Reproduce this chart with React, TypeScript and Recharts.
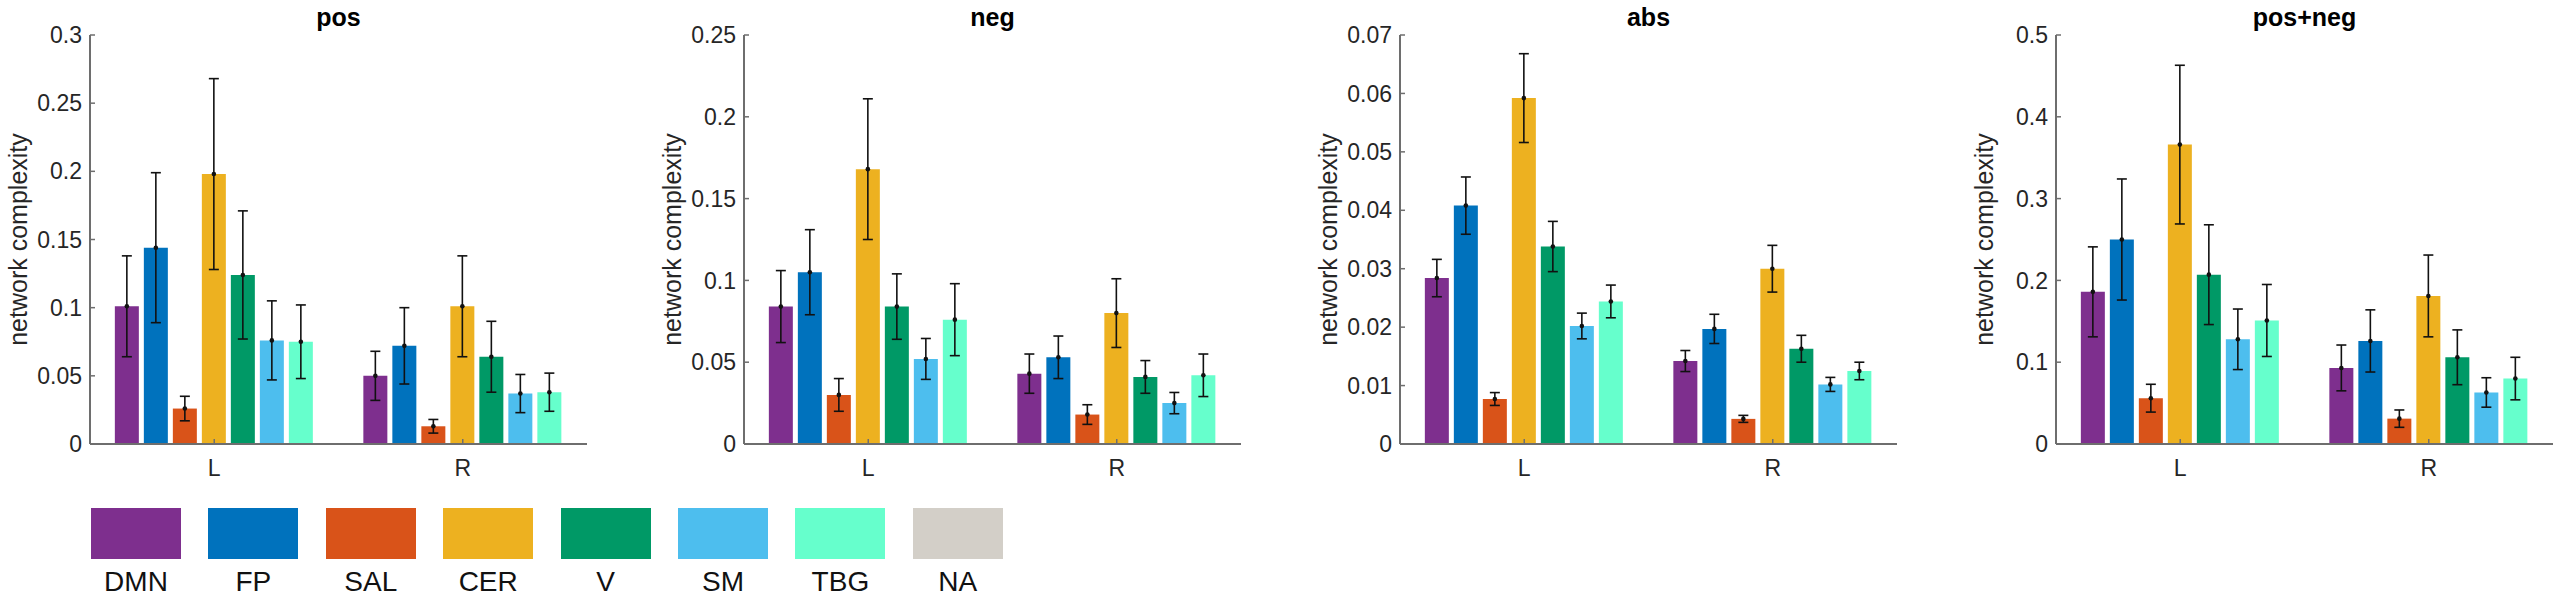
import React from "react";
import { BarChart, Bar, XAxis, YAxis, ErrorBar, LabelList } from "recharts";

const NETWORKS = ["DMN", "FP", "SAL", "CER", "V", "SM", "TBG"];
const LEGEND_NAMES = ["DMN", "FP", "SAL", "CER", "V", "SM", "TBG", "NA"];
const COLORS = ["#7E2F8E", "#0072BD", "#D95319", "#EDB120", "#009966", "#4DBEEE", "#66FFCC", "#D3CFC8"];
const GROUPS = ["L", "R"];

// pos
const posL = [0.101, 0.144, 0.026, 0.198, 0.124, 0.076, 0.075];
const posErrL = [0.037, 0.055, 0.009, 0.07, 0.047, 0.029, 0.027];
const posR = [0.05, 0.072, 0.013, 0.101, 0.064, 0.037, 0.038];
const posErrR = [0.018, 0.028, 0.005, 0.037, 0.026, 0.014, 0.014];
const posTicks = [0, 0.05, 0.1, 0.15, 0.2, 0.25, 0.3];

// neg
const negL = [0.084, 0.105, 0.03, 0.168, 0.084, 0.052, 0.076];
const negErrL = [0.022, 0.026, 0.01, 0.043, 0.02, 0.0125, 0.022];
const negR = [0.043, 0.053, 0.018, 0.08, 0.041, 0.025, 0.042];
const negErrR = [0.012, 0.013, 0.006, 0.021, 0.01, 0.0065, 0.013];
const negTicks = [0, 0.05, 0.1, 0.15, 0.2, 0.25];

// abs
const absL = [0.0284, 0.0408, 0.0077, 0.0592, 0.0338, 0.0202, 0.0244];
const absErrL = [0.0032, 0.0049, 0.0011, 0.0076, 0.0043, 0.0022, 0.0028];
const absR = [0.0142, 0.0197, 0.0043, 0.03, 0.0163, 0.0102, 0.0125];
const absErrR = [0.0018, 0.0025, 0.0006, 0.004, 0.0023, 0.0012, 0.0015];
const absTicks = [0, 0.01, 0.02, 0.03, 0.04, 0.05, 0.06, 0.07];

// pos+neg
const pnL = [0.186, 0.25, 0.056, 0.366, 0.207, 0.128, 0.151];
const pnErrL = [0.055, 0.074, 0.017, 0.097, 0.061, 0.037, 0.044];
const pnR = [0.093, 0.126, 0.031, 0.181, 0.106, 0.063, 0.08];
const pnErrR = [0.028, 0.038, 0.0106, 0.05, 0.0335, 0.018, 0.026];
const pnTicks = [0, 0.1, 0.2, 0.3, 0.4, 0.5];

function makeRows(vals: number[][], errs: number[][]) {
  return GROUPS.map((g, gi) => {
    const row: any = { group: g };
    NETWORKS.forEach((n, i) => {
      row[n] = vals[gi][i];
      row[n + "_err"] = errs[gi][i];
    });
    return row;
  });
}

const panels = [
  { title: "pos", data: makeRows([posL, posR], [posErrL, posErrR]), ticks: posTicks },
  { title: "neg", data: makeRows([negL, negR], [negErrL, negErrR]), ticks: negTicks },
  { title: "abs", data: makeRows([absL, absR], [absErrL, absErrR]), ticks: absTicks },
  { title: "pos+neg", data: makeRows([pnL, pnR], [pnErrL, pnErrR]), ticks: pnTicks },
];

const PLOT_LEFTS = [90, 744, 1400, 2056];
const PLOT_W = 497;
const PLOT_H = 409;
const TOP = 35;
const Y_W = 90;
const AXIS = "#6e6e6e";
const TEXT = "#262626";
const FONT = "'Liberation Sans', Arial, Helvetica, sans-serif";

const fmt = (v: number) => String(Math.round(v * 1000) / 1000);

function yLabel(props: any) {
  const vb = props.viewBox;
  const cx = vb.x + 18;
  const cy = vb.y + vb.height / 2;
  return (
    <text
      x={cx}
      y={cy}
      transform={`rotate(-90 ${cx} ${cy})`}
      textAnchor="middle"
      dominantBaseline="central"
      fontSize={25}
      fill={TEXT}
      fontFamily={FONT}
    >
      network complexity
    </text>
  );
}

function Panel({ title, data, ticks, left }: any) {
  const max = ticks[ticks.length - 1];
  return (
    <div style={{ position: "absolute", left: left - Y_W, top: 0 }}>
      <div
        style={{
          position: "absolute",
          left: Y_W,
          top: 5,
          width: PLOT_W,
          textAlign: "center",
          fontWeight: "bold",
          fontSize: 25,
          lineHeight: "25px",
          color: "#000",
          fontFamily: FONT,
        }}
      >
        {title}
      </div>
      <BarChart
        width={Y_W + PLOT_W + 4}
        height={TOP + PLOT_H + 60}
        data={data}
        margin={{ top: TOP, right: 4, left: 0, bottom: 0 }}
        barCategoryGap="10%"
        barGap={5}
      >
        <XAxis
          dataKey="group"
          height={60}
          interval={0}
          axisLine={{ stroke: AXIS, strokeWidth: 2 }}
          tickLine={{ stroke: AXIS, strokeWidth: 1.5 }}
          tickSize={-5}
          tickMargin={21}
          tick={{ fill: TEXT, fontSize: 23, fontFamily: FONT }}
        />
        <XAxis
          xAxisId="top"
          dataKey="group"
          orientation="top"
          height={0}
          interval={0}
          axisLine={{ stroke: AXIS, strokeWidth: 2 }}
          tickLine={{ stroke: AXIS, strokeWidth: 1.5 }}
          tickSize={-5}
          tick={false}
        />
        <YAxis
          domain={[0, max]}
          ticks={ticks}
          width={Y_W}
          interval={0}
          axisLine={{ stroke: AXIS, strokeWidth: 2 }}
          tickLine={{ stroke: AXIS, strokeWidth: 1.5 }}
          tickSize={-5}
          tickMargin={13}
          tickFormatter={fmt}
          tick={{ fill: TEXT, fontSize: 23, fontFamily: FONT }}
          label={{ content: yLabel }}
        />
        <YAxis
          yAxisId="right"
          orientation="right"
          domain={[0, max]}
          ticks={ticks}
          width={0}
          interval={0}
          axisLine={{ stroke: AXIS, strokeWidth: 2 }}
          tickLine={{ stroke: AXIS, strokeWidth: 1.5 }}
          tickSize={-5}
          tick={false}
        />
        {NETWORKS.map((n, i) => (
          <Bar key={n} dataKey={n} fill={COLORS[i]} isAnimationActive={false}>
            <ErrorBar dataKey={n + "_err"} direction="y" width={5} stroke="#111" strokeWidth={1.6} />
            <LabelList
              dataKey={n}
              content={(p: any) => (
                <circle cx={Number(p.x) + Number(p.width) / 2} cy={Number(p.y)} r={2.3} fill="#111" />
              )}
            />
          </Bar>
        ))}
      </BarChart>
    </div>
  );
}

function Legend() {
  return (
    <>
      {LEGEND_NAMES.map((n, i) => {
        const cx = 136 + 117.4 * i;
        return (
          <React.Fragment key={n}>
            <div
              style={{
                position: "absolute",
                left: cx - 45,
                top: 508,
                width: 90,
                height: 51,
                background: COLORS[i],
              }}
            />
            <div
              style={{
                position: "absolute",
                left: cx - 60,
                top: 568,
                width: 120,
                textAlign: "center",
                fontSize: 28,
                lineHeight: "28px",
                color: "#111",
                fontFamily: FONT,
              }}
            >
              {n}
            </div>
          </React.Fragment>
        );
      })}
    </>
  );
}

export default function App() {
  return (
    <div
      style={{
        position: "absolute",
        left: 0,
        top: 0,
        width: 2560,
        height: 605,
        background: "#fff",
        overflow: "hidden",
        fontFamily: FONT,
      }}
    >
      {panels.map((p, i) => (
        <Panel key={p.title} title={p.title} data={p.data} ticks={p.ticks} left={PLOT_LEFTS[i]} />
      ))}
      <Legend />
    </div>
  );
}
